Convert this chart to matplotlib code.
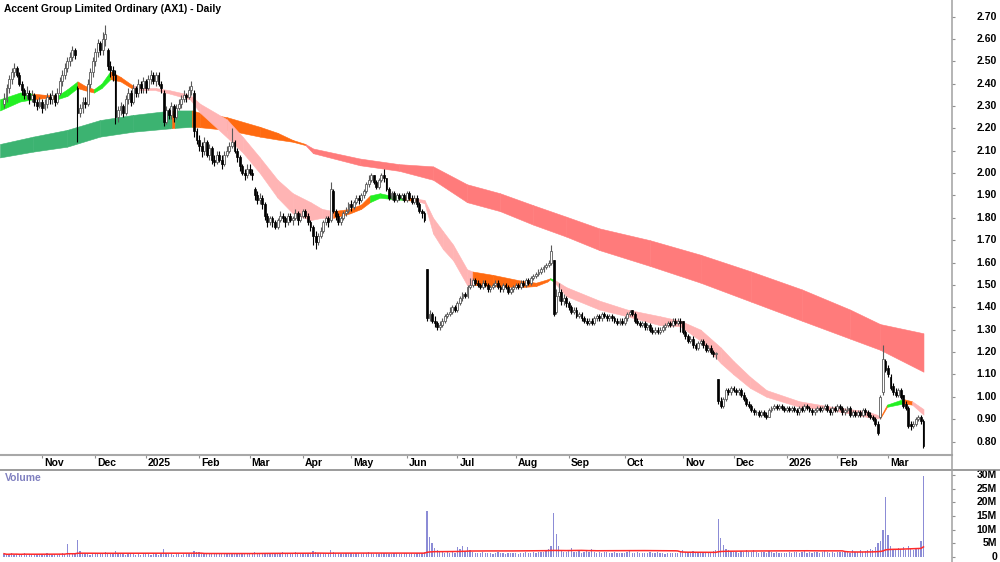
import numpy as np
import pandas as pd
import matplotlib
matplotlib.use("Agg")
import matplotlib.pyplot as plt
from matplotlib.lines import Line2D
from matplotlib.transforms import blended_transform_factory as btf

plt.rcParams['font.family'] = ['Liberation Sans', 'DejaVu Sans']

title = "Accent Group Limited Ordinary (AX1) - Daily"
month_labels = ["Nov", "Dec", "2025", "Feb", "Mar", "Apr", "May", "Jun", "Jul", "Aug",
                "Sep", "Oct", "Nov", "Dec", "2026", "Feb", "Mar"]
month_pos = [15, 36, 56, 77, 97, 118, 137, 159, 179, 202, 223, 245, 268, 288, 309, 329, 349]
price_ticks = [0.80, 0.90, 1.00, 1.10, 1.20, 1.30, 1.40, 1.50, 1.60, 1.70, 1.80, 1.90,
               2.00, 2.10, 2.20, 2.30, 2.40, 2.50, 2.60, 2.70]
vol_ticks = [0, 5, 10, 15, 20, 25, 30]
vol_tick_labels = ["0", "5M", "10M", "15M", "20M", "25M", "30M"]

# daily OHLC in cents (Oct-2024 .. Mar-2026)
closes = [
    233, 238, 242, 245, 247, 244, 240, 237, 235, 236, 233, 235, 232, 230, 232,
    229, 231, 234, 233, 235, 232, 236, 241, 244, 247, 250, 252, 255, 253, 227, 229, 232, 231, 240, 245, 250,
    254, 258, 255, 260, 262, 248, 246, 244, 225, 228, 230, 227, 233, 236, 232, 238, 236, 240, 238, 241,
    238, 242, 244, 241, 244, 240, 238, 223, 228, 226, 230, 225, 229, 231, 233, 235, 234, 237, 239, 219, 215,
    212, 210, 214, 208, 211, 206, 205, 208, 206, 204, 208, 210, 212, 214, 210, 207, 203, 200, 199, 202,
    200, 199, 190, 188, 189, 186, 181, 178, 180, 178, 176, 179, 181, 180, 178, 181, 179, 180, 182, 179, 181,
    183, 181, 178, 176, 172, 169, 172, 174, 178, 180, 178, 193, 183, 181, 178, 180, 182, 183, 186,
    185, 187, 189, 188, 190, 192, 195, 197, 199, 196, 194, 197, 199, 198, 193, 189, 191, 188, 190, 189, 190, 188,
    191, 189, 187, 189, 186, 183, 182, 179, 135, 137, 134, 133, 131, 132, 134, 136, 137, 138, 140, 139,
    142, 144, 146, 145, 149, 150, 152, 151, 150, 149, 151, 150, 148, 149, 150, 151, 149, 148, 150, 149, 147, 148, 149,
    150, 149, 151, 150, 152, 151, 153, 154, 155, 156, 157, 158, 159, 160, 165, 137, 145, 147, 143, 144, 142,
    140, 138, 139, 136, 137, 135, 134, 133, 134, 133, 135, 136, 135, 137, 136, 135, 136, 135, 134, 133, 134, 133,
    135, 137, 138, 137, 134, 133, 132, 133, 131, 132, 130, 129, 130, 129, 130, 131, 132, 133, 132, 134, 133, 134, 133,
    129, 127, 125, 126, 123, 122, 124, 125, 123, 121, 122, 120, 119, 119, 98, 96, 99, 103, 102, 104,
    103, 102, 103, 101, 99, 97, 96, 94, 93, 93, 92, 93, 92, 91, 94, 95, 96, 95, 96, 95, 94,
    95, 94, 95, 94, 93, 95, 94, 96, 95, 94, 93, 94, 95, 94, 95, 96, 94, 93, 95, 94,
    96, 95, 93, 94, 95, 92, 93, 92, 93, 92, 94, 93, 92, 91, 90, 88, 84, 100, 117, 112,
    110, 104, 102, 101, 103, 100, 96, 95, 87, 87, 88, 90, 91, 89, 78,
]
opens = [
    231, 233, 238, 242, 245, 247, 244, 240, 237, 235, 236, 233, 235, 232, 230,
    232, 229, 231, 234, 233, 235, 232, 236, 241, 244, 247, 250, 252, 255, 238, 227, 229, 232, 231, 240, 245,
    250, 254, 258, 255, 260, 255, 248, 246, 244, 225, 228, 230, 227, 233, 236, 232, 238, 236, 240, 238,
    241, 238, 242, 244, 241, 244, 240, 236, 223, 228, 226, 230, 225, 229, 231, 233, 235, 234, 237, 236, 219,
    215, 212, 210, 214, 208, 211, 206, 205, 208, 206, 204, 208, 210, 212, 214, 210, 207, 203, 200, 199,
    202, 200, 193, 190, 188, 189, 186, 181, 178, 180, 178, 176, 179, 181, 180, 178, 181, 179, 180, 182, 179,
    181, 183, 181, 178, 176, 172, 169, 172, 174, 178, 180, 179, 192, 183, 181, 178, 180, 182, 183,
    186, 185, 187, 189, 188, 190, 192, 195, 197, 199, 196, 194, 197, 199, 198, 193, 189, 191, 188, 190, 189, 190,
    188, 191, 189, 187, 189, 186, 183, 182, 157, 135, 137, 134, 133, 131, 132, 134, 136, 137, 138, 140,
    139, 142, 144, 146, 145, 149, 150, 152, 151, 150, 149, 151, 150, 148, 149, 150, 151, 149, 148, 150, 149, 147, 148,
    149, 150, 149, 151, 150, 152, 151, 153, 154, 155, 156, 157, 158, 159, 160, 161, 138, 145, 147, 143, 144,
    142, 140, 138, 139, 136, 137, 135, 134, 133, 134, 133, 135, 136, 135, 137, 136, 135, 136, 135, 134, 133, 134,
    133, 135, 137, 139, 137, 134, 133, 132, 133, 131, 132, 130, 129, 130, 129, 130, 131, 132, 133, 132, 134, 133, 134,
    134, 129, 127, 125, 126, 123, 122, 124, 125, 123, 121, 122, 120, 119, 108, 98, 96, 99, 103, 102,
    104, 103, 102, 103, 101, 99, 97, 96, 94, 93, 93, 92, 93, 92, 91, 94, 95, 96, 95, 96, 95,
    94, 95, 94, 95, 94, 93, 95, 94, 96, 95, 94, 93, 94, 95, 94, 95, 96, 94, 93, 95,
    94, 96, 95, 93, 94, 95, 92, 93, 92, 93, 92, 94, 93, 92, 91, 90, 88, 91, 102, 116,
    113, 109, 105, 102, 101, 103, 101, 97, 95, 88, 87, 88, 90, 91, 89,
]
highs = [
    236, 240, 244, 247, 249, 248, 245, 241, 238, 239, 237, 237, 236, 233, 234,
    233, 233, 236, 236, 237, 236, 238, 243, 246, 249, 252, 254, 257, 256, 239, 231, 234, 234, 242, 247, 252,
    256, 260, 259, 263, 266, 256, 250, 248, 246, 230, 232, 231, 235, 238, 237, 240, 239, 242, 241, 243,
    242, 244, 246, 245, 245, 245, 241, 237, 230, 229, 232, 231, 231, 233, 235, 237, 236, 239, 241, 237, 220,
    217, 214, 216, 215, 213, 212, 208, 210, 210, 208, 210, 212, 214, 220, 215, 211, 208, 204, 202, 204,
    204, 202, 194, 192, 191, 190, 187, 182, 181, 181, 179, 180, 183, 182, 181, 182, 182, 181, 184, 183, 182,
    184, 184, 182, 179, 177, 174, 173, 176, 179, 181, 181, 196, 193, 184, 182, 181, 183, 185, 187,
    188, 188, 190, 190, 191, 193, 196, 199, 200, 199, 197, 198, 200, 202, 198, 194, 192, 192, 191, 191, 191, 191,
    192, 192, 190, 190, 190, 187, 184, 183, 157, 139, 138, 136, 134, 134, 135, 137, 138, 140, 141, 141,
    143, 145, 147, 147, 150, 153, 153, 153, 152, 151, 152, 152, 151, 150, 151, 152, 152, 150, 151, 151, 150, 149, 150,
    151, 151, 152, 152, 153, 153, 154, 155, 156, 157, 158, 159, 160, 161, 168, 161, 148, 151, 148, 146, 145,
    143, 141, 140, 140, 138, 138, 136, 135, 135, 135, 136, 137, 137, 138, 138, 137, 137, 137, 136, 135, 135, 135,
    136, 138, 139, 139, 138, 135, 134, 134, 134, 133, 133, 131, 131, 131, 131, 132, 133, 134, 134, 135, 135, 135, 135,
    134, 130, 128, 127, 127, 124, 125, 126, 126, 124, 123, 123, 121, 120, 108, 100, 100, 104, 104, 105,
    105, 104, 104, 104, 102, 100, 98, 97, 95, 94, 94, 94, 94, 93, 95, 96, 97, 97, 97, 97, 96,
    96, 96, 96, 96, 95, 96, 96, 97, 97, 96, 95, 95, 96, 96, 96, 97, 97, 95, 96, 96,
    97, 97, 96, 95, 96, 96, 94, 94, 94, 94, 95, 95, 94, 93, 92, 91, 89, 101, 123, 117,
    114, 110, 106, 104, 104, 104, 101, 98, 96, 89, 89, 91, 92, 92, 90,
]
lows = [
    229, 232, 236, 240, 243, 243, 239, 235, 233, 233, 231, 232, 230, 228, 229,
    227, 228, 229, 231, 231, 230, 231, 235, 239, 242, 245, 248, 250, 251, 214, 225, 227, 229, 230, 238, 243,
    248, 252, 253, 253, 257, 246, 243, 241, 222, 223, 226, 225, 226, 231, 230, 231, 234, 234, 236, 236,
    236, 237, 240, 240, 239, 239, 236, 221, 222, 224, 224, 223, 224, 228, 229, 232, 232, 233, 235, 216, 213,
    210, 207, 208, 207, 206, 204, 203, 204, 205, 202, 203, 207, 209, 211, 209, 205, 201, 199, 197, 198,
    199, 197, 188, 186, 186, 184, 179, 176, 177, 176, 175, 175, 178, 178, 176, 177, 178, 177, 179, 177, 178,
    180, 180, 177, 174, 168, 166, 168, 171, 173, 177, 176, 178, 182, 179, 177, 177, 179, 181, 182,
    183, 184, 186, 186, 187, 189, 191, 194, 196, 195, 193, 193, 196, 196, 192, 188, 188, 187, 187, 188, 188, 187,
    187, 188, 186, 186, 185, 182, 180, 178, 134, 134, 133, 131, 130, 130, 131, 133, 135, 136, 137, 138,
    138, 141, 143, 144, 144, 148, 149, 150, 149, 148, 148, 149, 147, 147, 148, 149, 148, 147, 147, 148, 146, 146, 147,
    148, 148, 148, 149, 149, 150, 150, 152, 153, 154, 155, 156, 157, 158, 159, 136, 137, 143, 141, 141, 140,
    139, 137, 137, 135, 135, 134, 133, 132, 132, 132, 132, 134, 134, 134, 135, 134, 134, 134, 133, 132, 132, 132,
    132, 134, 136, 136, 133, 132, 131, 131, 130, 130, 129, 128, 128, 128, 128, 129, 130, 131, 131, 131, 132, 132, 129,
    128, 126, 124, 124, 122, 121, 121, 123, 122, 120, 120, 119, 118, 117, 97, 95, 95, 98, 101, 101,
    102, 101, 101, 100, 98, 96, 95, 93, 92, 92, 91, 91, 91, 90, 91, 93, 94, 94, 94, 94, 93,
    93, 93, 93, 93, 92, 92, 93, 93, 94, 93, 92, 92, 93, 93, 93, 94, 93, 92, 92, 93,
    93, 94, 92, 92, 93, 91, 91, 91, 91, 91, 91, 92, 91, 90, 89, 87, 83, 90, 101, 111,
    109, 103, 101, 100, 100, 99, 95, 94, 86, 85, 86, 87, 89, 88, 77,
]
# daily volume in millions of shares
volume = [
    1.2, 0.8, 1.0, 1.3, 0.9, 1.1, 0.7, 1.0, 1.4, 0.9, 1.1, 0.8, 1.2, 1.0, 0.9,
    1.1, 0.9, 1.3, 1.0, 0.8, 1.2, 0.9, 1.0, 1.5, 1.2, 4.8, 1.3, 1.1, 1.2, 6.3, 2.2, 1.4, 1.1, 1.3, 0.9, 1.5,
    1.6, 1.2, 1.0, 1.4, 1.8, 1.3, 1.1, 1.5, 2.2, 1.4, 1.0, 1.2, 0.9, 1.1, 1.3, 1.0, 0.8, 1.2, 0.9, 1.1,
    1.0, 1.2, 0.9, 1.4, 1.1, 0.8, 1.0, 3.0, 1.3, 1.2, 1.0, 0.9, 1.1, 1.2, 0.8, 1.0, 1.3, 1.1, 1.2, 2.3, 1.8,
    2.0, 1.6, 1.4, 1.2, 1.5, 1.3, 1.1, 1.4, 1.2, 1.0, 1.3, 1.5, 1.1, 1.6, 1.2, 1.4, 1.3, 1.1, 1.5, 1.2,
    1.4, 1.2, 1.8, 1.5, 1.3, 1.1, 1.6, 1.4, 1.2, 1.3, 1.5, 1.1, 1.3, 1.9, 1.2, 1.4, 1.1, 1.3, 2.0, 1.2, 1.4,
    1.3, 1.5, 1.2, 1.6, 2.2, 1.8, 1.4, 1.3, 1.5, 1.2, 1.4, 2.4, 1.8, 1.3, 1.5, 1.2, 1.1, 1.4, 1.3,
    1.5, 1.2, 1.4, 1.3, 1.1, 1.6, 1.4, 1.8, 1.3, 1.2, 1.5, 1.1, 1.4, 1.3, 1.6, 1.2, 1.0, 1.3, 1.5, 1.1, 1.2, 1.4,
    1.3, 1.1, 1.5, 1.2, 1.4, 1.6, 1.3, 1.8, 17.0, 7.5, 5.0, 3.2, 2.4, 2.0, 1.8, 1.6, 2.2, 1.5, 1.7, 1.4,
    3.5, 2.8, 4.0, 2.2, 3.8, 2.5, 1.8, 1.6, 1.5, 1.4, 1.7, 1.3, 1.5, 1.6, 1.2, 1.4, 1.8, 1.3, 1.5, 1.2, 1.6, 1.4, 1.3,
    1.5, 1.2, 1.6, 1.4, 1.8, 1.3, 1.5, 1.7, 1.6, 1.9, 2.0, 1.8, 2.2, 3.0, 4.0, 16.0, 8.5, 4.2, 2.5, 2.0, 1.8,
    2.5, 3.2, 2.0, 1.8, 2.2, 1.6, 1.9, 2.4, 1.7, 3.0, 2.0, 1.6, 1.8, 1.5, 1.7, 1.9, 1.4, 1.6, 1.8, 1.5, 1.3, 1.6,
    1.5, 1.8, 2.2, 1.6, 1.4, 1.7, 1.5, 1.3, 1.6, 1.4, 1.8, 1.5, 1.3, 1.7, 1.4, 1.6, 1.2, 1.5, 1.4, 1.6, 1.3, 1.5, 1.7,
    2.5, 2.0, 1.8, 1.6, 2.2, 1.7, 1.5, 1.8, 1.6, 2.0, 1.7, 1.9, 2.1, 2.4, 14.0, 7.0, 4.5, 3.0, 2.5, 2.2,
    2.0, 1.8, 1.6, 2.2, 1.9, 2.4, 2.0, 1.7, 2.5, 1.8, 1.6, 2.0, 1.7, 1.5, 2.3, 1.9, 1.6, 1.8, 1.5, 1.4, 1.3,
    1.5, 1.8, 1.6, 2.0, 1.7, 1.5, 1.9, 2.2, 1.6, 1.8, 1.5, 1.7, 2.0, 1.6, 1.8, 2.1, 1.7, 1.5, 1.9, 1.6,
    1.8, 2.0, 1.7, 1.9, 2.2, 1.6, 2.4, 1.8, 2.0, 2.5, 1.9, 2.2, 2.6, 3.0, 2.4, 3.5, 5.0, 6.0, 10.0, 22.0,
    8.0, 4.0, 3.0, 2.5, 3.2, 2.8, 3.5, 2.6, 4.0, 3.0, 2.5, 2.8, 3.2, 5.7, 29.5,
]

# short-term MA ribbon (bar position, lower edge, upper edge) and colour state per segment
sb_x = [-1.6, 6.3, 11.5, 16, 21, 25, 29, 32, 35.5, 38.5, 42, 46, 51, 56, 60, 65.5, 73.4, 77.4,
        88, 94.4, 101, 108, 114, 121, 125.5, 130, 136.6, 141, 144.5, 148.4, 152.4, 158, 163, 166,
        169.4, 173.3, 177.3, 182.8, 185, 193, 203.7, 210, 214.5, 215.6, 217, 222, 235, 246, 259,
        267, 275, 283, 288, 294.5, 301, 314, 327, 340.7, 344.6, 346, 348.6, 355, 358.5, 363]
sb_lo = [2.28, 2.32, 2.33, 2.335, 2.33, 2.345, 2.38, 2.37, 2.36, 2.38, 2.42, 2.41, 2.375, 2.37,
         2.37, 2.355, 2.33, 2.27, 2.16, 2.09, 2.00, 1.89, 1.82, 1.79, 1.80, 1.80, 1.82, 1.84, 1.87,
         1.89, 1.885, 1.88, 1.875, 1.865, 1.73, 1.66, 1.61, 1.50, 1.50, 1.495, 1.49, 1.495, 1.515,
         1.525, 1.515, 1.45, 1.39, 1.36, 1.32, 1.315, 1.25, 1.15, 1.10, 1.04, 1.00, 0.955, 0.94,
         0.91, 0.905, 0.905, 0.955, 0.97, 0.965, 0.92]
sb_hi = [2.33, 2.36, 2.355, 2.35, 2.345, 2.375, 2.41, 2.39, 2.375, 2.40, 2.455, 2.43, 2.39, 2.38,
         2.38, 2.37, 2.35, 2.31, 2.24, 2.16, 2.07, 1.97, 1.91, 1.87, 1.84, 1.83, 1.84, 1.86, 1.90,
         1.91, 1.90, 1.895, 1.885, 1.88, 1.80, 1.74, 1.68, 1.57, 1.56, 1.545, 1.52, 1.51, 1.525,
         1.53, 1.525, 1.49, 1.43, 1.39, 1.36, 1.34, 1.30, 1.22, 1.16, 1.09, 1.03, 0.98, 0.955,
         0.935, 0.92, 0.91, 0.965, 0.99, 0.98, 0.945]
sb_state = "ggooggooggoopppppppppppppooogggoppppppooooogpppppppppppppppogop"

# long-term MA ribbon
lb_x = [-1.6, 11.5, 24.9, 37.9, 51, 65.5, 66.4, 67.4, 74.2, 77.4, 88, 101, 108, 114, 119, 122,
        140.5, 156, 169.4, 182.8, 195.8, 208.8, 222, 235, 255, 275, 295, 315, 334, 345.9, 363]
lb_lo = [2.07, 2.096, 2.118, 2.163, 2.185, 2.20, 2.201, 2.202, 2.207, 2.205, 2.193, 2.163, 2.15,
         2.14, 2.125, 2.089, 2.035, 2.01, 1.97, 1.87, 1.83, 1.77, 1.716, 1.656, 1.585, 1.51, 1.425,
         1.34, 1.26, 1.21, 1.112]
lb_hi = [2.13, 2.163, 2.193, 2.237, 2.26, 2.279, 2.279, 2.28, 2.28, 2.27, 2.25, 2.207, 2.18, 2.148,
         2.13, 2.11, 2.065, 2.04, 2.03, 1.95, 1.91, 1.857, 1.805, 1.753, 1.70, 1.635, 1.56, 1.48,
         1.39, 1.325, 1.284]
lb_state = "GGGGGGOGOOOOOORRRRRRRRRRRRRRRR"

short_cols = {'g': '#22f022', 'o': '#ff6a10', 'p': '#ffb4b4'}
long_cols = {'G': '#3cb371', 'O': '#ff6a10', 'R': '#ff7b7b'}

n = len(closes)
assert len(opens) == n and len(highs) == n and len(lows) == n and len(volume) == n
assert len(sb_state) == len(sb_x) - 1 and len(lb_state) == len(lb_x) - 1

o = np.array(opens) / 100.0
c = np.array(closes) / 100.0
h = np.array(highs) / 100.0
l = np.array(lows) / 100.0
vol = np.array(volume)
idx = np.arange(n)

W, H = 1000, 562
fig = plt.figure(figsize=(W / 100, H / 100), dpi=100)
fig.patch.set_facecolor('white')

ax = fig.add_axes([0, 1 - 455 / H, 952 / W, 455 / H])
axv = fig.add_axes([0, 0, 952 / W, 92 / H])

xlim = (-4 / 2.533, (952 - 4) / 2.533)
ax.set_xlim(*xlim)
axv.set_xlim(*xlim)
ax.set_ylim(2.70 - (455 - 16.5) / 223.7, 2.70 + 16.5 / 223.7)
axv.set_ylim(-5 / 2.733, (557 - 470) / 2.733)

def draw_band(axis, xs, lo, hi, states, cmap):
    for k in range(len(xs) - 1):
        col = cmap[states[k]]
        axis.fill_between([xs[k], xs[k + 1]], [lo[k], lo[k + 1]], [hi[k], hi[k + 1]],
                          color=col, lw=0.4, edgecolor=col, zorder=1)

draw_band(ax, lb_x, lb_lo, lb_hi, lb_state, long_cols)
draw_band(ax, sb_x, sb_lo, sb_hi, sb_state, short_cols)

up = c >= o
wick_cols = np.where(up, '#5a5a5a', '#000000')
ax.vlines(idx, l, h, colors=wick_cols, lw=0.8, zorder=3)
body_bottom = np.minimum(o, c)
body_h = np.maximum(np.abs(c - o), 0.004)
ax.bar(idx[up], body_h[up], bottom=body_bottom[up], width=0.75, color='white',
       edgecolor='#5a5a5a', lw=0.6, zorder=4)
ax.bar(idx[~up], body_h[~up], bottom=body_bottom[~up], width=0.75, color='black',
       edgecolor='black', lw=0.5, zorder=4)

# volume
axv.bar(idx, vol, width=0.5, color='#8c8cd6', lw=0, zorder=2)
vma = pd.Series(vol).rolling(50, min_periods=1).mean()
axv.plot(idx, vma, color='#ff2a2a', lw=1.1, zorder=3)

for a in (ax, axv):
    for s in a.spines.values():
        s.set_visible(False)
    a.set_facecolor('white')
    a.patch.set_alpha(0)

ax.yaxis.set_ticks_position('right')
ax.set_yticks(price_ticks)
ax.tick_params(axis='y', direction='out', length=2.5, color='#909090', labelright=False, labelleft=False)
ax.set_xticks(month_pos)
ax.tick_params(axis='x', direction='out', length=2.5, color='#909090', labelbottom=False)

axv.yaxis.set_ticks_position('right')
axv.set_yticks(vol_ticks)
axv.tick_params(axis='y', direction='out', length=2.5, color='#909090', labelright=False, labelleft=False)
axv.set_xticks([])

fs = 7.5
tr = btf(fig.transFigure, ax.transData)
for p in price_ticks:
    ax.text(0.997, p, f"{p:.2f}", transform=tr, ha='right', va='center', fontsize=fs,
            fontweight='bold', color='black', clip_on=False)
trv = btf(fig.transFigure, axv.transData)
for v, lab in zip(vol_ticks, vol_tick_labels):
    axv.text(0.997, v, lab, transform=trv, ha='right', va='center', fontsize=fs,
             fontweight='bold', color='black', clip_on=False)
trx = btf(ax.transData, fig.transFigure)
for pos, lab in zip(month_pos, month_labels):
    ax.text(pos + 0.8, 1 - 463 / H, lab, transform=trx, ha='left', va='center', fontsize=fs,
            fontweight='bold', color='black', clip_on=False)

fig.text(4 / W, 1 - 8.5 / H, title, ha='left', va='center', fontsize=7.4, fontweight='bold', color='black')
fig.text(5 / W, 1 - 478 / H, "Volume", ha='left', va='center', fontsize=7.5, fontweight='bold', color='#8080c0')

fig.add_artist(Line2D([0, 952 / W], [1 - 455 / H, 1 - 455 / H], transform=fig.transFigure,
                      color='#a8a8a8', lw=1.5))
fig.add_artist(Line2D([0, 1], [1 - 470 / H, 1 - 470 / H], transform=fig.transFigure,
                      color='#808080', lw=1.1))
fig.add_artist(Line2D([952 / W, 952 / W], [0, 1], transform=fig.transFigure,
                      color='#a0a0a0', lw=1.1))

fig.savefig("out.png", dpi=100, facecolor='white')
